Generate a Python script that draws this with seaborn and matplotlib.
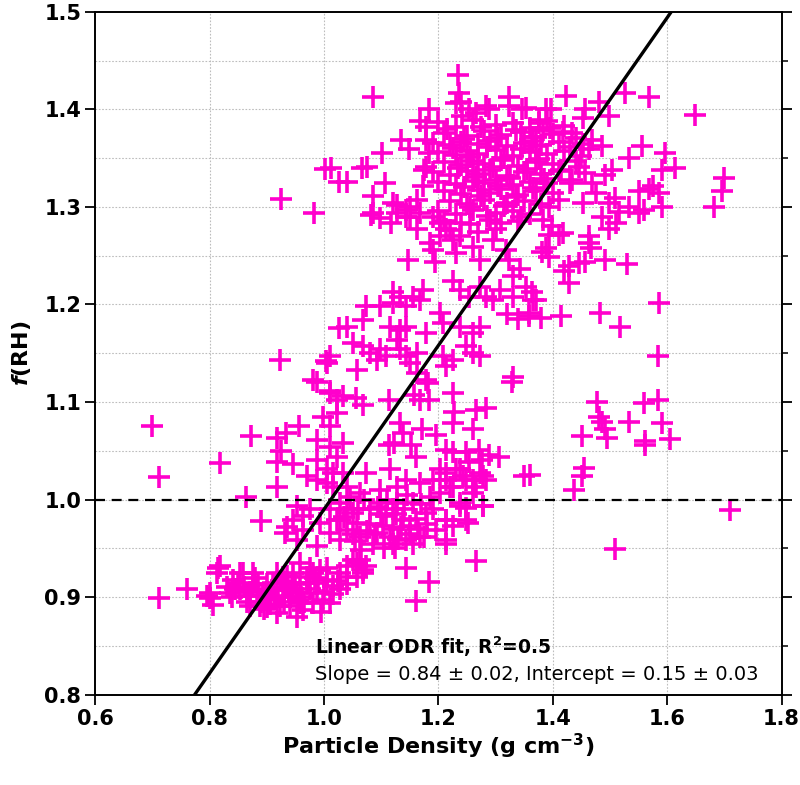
import matplotlib
matplotlib.use("Agg")
import matplotlib.pyplot as plt
import numpy as np
import pandas as pd
import seaborn as sns


# upper cluster, f(RH) ~ 1.3-1.44
upper_x = [
    1.235, 1.085, 1.013, 1.041, 1.067, 1.076, 1.102, 1.106, 1.085, 1.085, 1.120, 1.135, 1.149,
    1.167, 1.178, 1.184, 1.178, 1.184, 1.178, 1.175, 1.173, 1.162, 1.150, 1.127, 1.144, 1.236,
    1.239, 1.231, 1.242, 1.254, 1.266, 1.289, 1.283, 1.324, 1.347, 1.324, 1.353, 1.388, 1.376,
    1.001, 0.924, 0.982, 1.027,
    1.423, 1.396, 1.481, 1.527, 1.568, 1.498, 1.457, 1.452, 1.649, 1.376, 1.382, 1.364, 1.370,
    1.417, 1.434, 1.469, 1.486, 1.452, 1.463, 1.556, 1.533, 1.597, 1.614, 1.591, 1.504, 1.492,
    1.446, 1.457, 1.434, 1.469, 1.475, 1.550, 1.568, 1.576, 1.585, 1.591, 1.699, 1.696, 1.681,
    1.498, 1.509, 1.515, 1.486, 1.533, 1.550, 1.559, 1.510, 1.498, 1.452, 1.411, 1.393, 1.417,
    1.399, 1.382, 1.463,
]
upper_y = [
    1.435, 1.413, 1.340, 1.326, 1.340, 1.341, 1.355, 1.325, 1.311, 1.294, 1.304, 1.369, 1.359,
    1.388, 1.382, 1.400, 1.369, 1.355, 1.341, 1.338, 1.321, 1.307, 1.300, 1.294, 1.290, 1.417,
    1.408, 1.406, 1.393, 1.400, 1.396, 1.400, 1.403, 1.413, 1.400, 1.403, 1.401, 1.400, 1.389,
    1.339, 1.308, 1.294, 1.326,
    1.414, 1.400, 1.408, 1.417, 1.413, 1.393, 1.400, 1.391, 1.394, 1.386, 1.379, 1.372, 1.362,
    1.377, 1.376, 1.369, 1.362, 1.364, 1.359, 1.362, 1.350, 1.355, 1.340, 1.338, 1.338, 1.333,
    1.341, 1.335, 1.328, 1.324, 1.314, 1.316, 1.318, 1.321, 1.314, 1.300, 1.330, 1.316, 1.300,
    1.304, 1.309, 1.295, 1.290, 1.300, 1.294, 1.297, 1.283, 1.277, 1.304, 1.307, 1.300, 1.273,
    1.280, 1.287, 1.270,
]

# dense core of the upper cluster
core_x = [
    1.20, 1.23, 1.26, 1.30, 1.33, 1.36, 1.39, 1.42,
    1.21, 1.25, 1.28, 1.31, 1.345, 1.37, 1.40, 1.44,
    1.19, 1.22, 1.24, 1.27, 1.29, 1.32, 1.35, 1.38, 1.41, 1.43,
    1.20, 1.23, 1.25, 1.27, 1.30, 1.33, 1.36, 1.39, 1.42, 1.45,
    1.21, 1.24, 1.26, 1.28, 1.31, 1.34, 1.37, 1.40, 1.44,
    1.19, 1.22, 1.25, 1.27, 1.29, 1.32, 1.35, 1.38, 1.41,
    1.20, 1.23, 1.26, 1.28, 1.30, 1.33, 1.36, 1.39, 1.43,
    1.21, 1.24, 1.27, 1.29, 1.31, 1.34, 1.37, 1.40,
    1.22, 1.25, 1.28, 1.32, 1.35, 1.38,
    1.20, 1.23, 1.26, 1.30, 1.33, 1.36,
    1.21, 1.24, 1.29, 1.31, 1.34,
    1.22, 1.27, 1.30,
    1.215, 1.245, 1.275, 1.305, 1.335, 1.365, 1.395, 1.225, 1.255, 1.285, 1.315, 1.345, 1.375,
    1.235, 1.265, 1.295, 1.325, 1.355, 1.385, 1.415, 1.245, 1.275, 1.305, 1.335, 1.365, 1.255,
    1.285, 1.315, 1.345,
]
core_y = [
    1.387, 1.382, 1.389, 1.384, 1.386, 1.381, 1.388, 1.383,
    1.376, 1.373, 1.378, 1.374, 1.377, 1.372, 1.375, 1.371,
    1.366, 1.363, 1.367, 1.364, 1.368, 1.362, 1.366, 1.363, 1.367, 1.361,
    1.356, 1.353, 1.357, 1.354, 1.358, 1.352, 1.356, 1.354, 1.357, 1.352,
    1.346, 1.343, 1.347, 1.344, 1.348, 1.342, 1.346, 1.344, 1.347,
    1.336, 1.333, 1.337, 1.334, 1.338, 1.332, 1.336, 1.334, 1.337,
    1.326, 1.323, 1.327, 1.324, 1.328, 1.322, 1.326, 1.324, 1.325,
    1.316, 1.313, 1.317, 1.314, 1.318, 1.312, 1.316, 1.314,
    1.306, 1.303, 1.307, 1.304, 1.306, 1.303,
    1.296, 1.293, 1.297, 1.294, 1.296, 1.293,
    1.286, 1.283, 1.287, 1.284, 1.286,
    1.276, 1.274, 1.277,
    1.380, 1.370, 1.382, 1.371, 1.379, 1.368, 1.381, 1.360, 1.351, 1.361, 1.350, 1.359, 1.349,
    1.340, 1.331, 1.341, 1.330, 1.339, 1.329, 1.338, 1.320, 1.311, 1.321, 1.310, 1.319, 1.300,
    1.291, 1.301, 1.290,
]

# middle band, f(RH) ~ 1.1-1.3
mid_x = [
    1.083, 1.098, 1.118, 1.127, 1.144, 1.162, 1.150, 1.167, 1.191, 1.202, 1.214, 1.202, 1.225,
    1.185, 1.191, 1.237, 1.255, 1.231, 1.272, 1.260, 1.147, 1.194, 1.225, 1.237, 1.272, 1.254,
    1.283, 1.295, 1.307, 1.330, 1.295, 1.319, 1.324, 1.342, 1.330, 1.353, 1.365, 1.359, 1.121,
    1.132, 1.156, 1.167, 1.144, 1.121, 1.074, 1.098, 1.173, 1.040, 1.069, 1.115, 1.132, 1.144,
    1.179, 1.202, 1.208, 1.051, 1.069, 1.080, 1.098, 1.092, 1.109, 1.127, 1.132, 1.144, 1.162,
    1.150, 1.237, 1.260, 1.272, 1.249, 1.260, 1.272, 1.225, 1.214, 1.208, 1.005, 1.010, 0.981,
    1.057, 1.330, 1.179, 1.162, 0.923, 1.003, 1.010, 1.027, 1.320, 1.340,
    1.393, 1.411, 1.381, 1.393, 1.388, 1.463, 1.466, 1.428, 1.420, 1.428, 1.446, 1.457, 1.492,
    1.530, 1.585, 1.364, 1.370, 1.358, 1.379, 1.414, 1.483, 1.518,
]
mid_y = [
    1.292, 1.289, 1.284, 1.302, 1.297, 1.277, 1.290, 1.294, 1.290, 1.283, 1.277, 1.270, 1.266,
    1.263, 1.256, 1.270, 1.282, 1.253, 1.246, 1.259, 1.246, 1.244, 1.224, 1.215, 1.218, 1.208,
    1.208, 1.205, 1.215, 1.208, 1.266, 1.256, 1.246, 1.236, 1.229, 1.218, 1.205, 1.188, 1.213,
    1.208, 1.208, 1.205, 1.198, 1.201, 1.198, 1.198, 1.215, 1.177, 1.184, 1.177, 1.174, 1.177,
    1.171, 1.191, 1.181, 1.160, 1.157, 1.150, 1.154, 1.143, 1.147, 1.164, 1.154, 1.147, 1.150,
    1.140, 1.177, 1.171, 1.177, 1.157, 1.150, 1.147, 1.143, 1.137, 1.147, 1.140, 1.147, 1.123,
    1.133, 1.126, 1.123, 1.130, 1.143, 1.142, 1.111, 1.176, 1.190, 1.185,
    1.271, 1.271, 1.254, 1.249, 1.258, 1.263, 1.258, 1.239, 1.234, 1.222, 1.242, 1.244, 1.246,
    1.241, 1.201, 1.213, 1.205, 1.191, 1.186, 1.188, 1.191, 1.177,
]

# band around f(RH) ~ 1.0-1.1
low_x = [
    1.329, 1.181, 1.225, 1.184, 1.158, 1.167, 1.114, 1.056, 1.068, 1.228, 1.225, 1.266, 1.283,
    1.260, 1.132, 1.138, 1.172, 1.196, 1.152, 1.161, 1.123, 1.114, 1.213, 1.225, 1.248, 1.271,
    1.289, 1.306, 1.254, 1.277, 1.350, 1.202, 1.191, 1.214, 1.231, 1.243, 1.260, 1.272, 1.283,
    1.266, 1.220, 1.237, 1.249, 1.278, 1.252, 1.214, 1.225, 1.214, 1.124, 1.266, 1.143, 1.184,
    1.161, 1.069, 1.057, 1.040,
    0.987, 1.010, 1.022, 1.034, 1.022, 0.999, 1.010, 0.987, 1.010, 1.034, 1.022, 0.987, 1.005,
    1.034, 1.016, 0.987, 0.970, 0.952, 0.976, 0.964, 0.993, 1.022, 1.010, 0.946, 0.964, 0.935,
    0.952, 0.987, 1.028,
    0.699, 0.712, 0.819, 0.873, 0.863, 0.890, 0.917, 0.917, 0.917, 0.934, 0.957, 0.946, 0.925,
    0.931,
    1.584, 1.478, 1.481, 1.486, 1.492, 1.495, 1.559, 1.584, 1.533, 1.591, 1.562, 1.562, 1.605,
    1.451, 1.454, 1.451, 1.437, 1.361, 1.710, 1.508,
]
low_y = [
    1.121, 1.119, 1.109, 1.102, 1.107, 1.102, 1.102, 1.104, 1.097, 1.090, 1.078, 1.092, 1.094,
    1.072, 1.078, 1.068, 1.072, 1.066, 1.056, 1.044, 1.058, 1.056, 1.051, 1.049, 1.049, 1.051,
    1.046, 1.044, 1.039, 1.041, 1.024, 1.031, 1.020, 1.020, 1.031, 1.024, 1.020, 1.027, 1.020,
    1.013, 1.013, 0.997, 0.991, 0.993, 0.976, 0.979, 0.973, 0.955, 0.950, 0.937, 0.930, 0.916,
    0.896, 0.928, 0.935, 0.921,
    1.121, 1.109, 1.102, 1.106, 1.089, 1.085, 1.075, 1.061, 1.054, 1.058, 1.044, 1.041, 1.031,
    1.027, 1.013, 1.020, 1.024, 0.993, 0.990, 0.983, 0.976, 0.979, 0.966, 0.979, 0.969, 0.972,
    0.959, 0.952, 0.959,
    1.075, 1.023, 1.038, 1.065, 1.003, 0.978, 1.013, 1.039, 1.063, 1.068, 1.075, 1.036, 1.050,
    0.966,
    1.147, 1.100, 1.085, 1.080, 1.072, 1.063, 1.099, 1.102, 1.080, 1.078, 1.060, 1.056, 1.062,
    1.065, 1.032, 1.024, 1.010, 1.025, 0.989, 0.949,
]

# dense group just under f(RH) = 1
near1_x = [
    1.074, 1.115, 1.144, 1.127, 1.167, 1.098, 1.063, 1.040, 1.016, 1.005, 1.185, 1.202, 1.214,
    1.237, 1.249, 1.278, 1.225, 1.260, 1.237, 1.278, 1.249, 1.214, 1.196, 1.214, 1.167, 1.144,
    1.121, 1.092, 1.063, 1.040, 1.028, 1.051, 1.080, 1.109, 1.138, 1.156, 1.127, 1.098, 1.028,
    1.010, 1.057, 1.103, 1.150, 1.179,
    1.06, 1.08, 1.10, 1.12, 1.14, 1.16, 1.18, 1.07, 1.09, 1.13, 1.15, 1.05, 1.11, 1.17, 1.04,
    1.12, 1.19, 1.085,
    1.035, 1.055, 1.075, 1.095, 1.115, 1.135, 1.155, 1.175, 1.045, 1.065, 1.105, 1.125, 1.145,
    1.165,
]
near1_y = [
    1.027, 1.031, 1.020, 1.013, 1.017, 1.010, 1.007, 1.013, 1.027, 1.017, 1.003, 1.007, 1.027,
    1.031, 1.020, 1.024, 1.013, 1.007, 0.993, 0.993, 0.979, 0.979, 0.969, 0.959, 0.962, 0.959,
    0.955, 0.966, 0.962, 0.969, 0.979, 0.986, 0.990, 0.983, 0.979, 0.997, 0.997, 0.997, 0.997,
    0.990, 0.976, 0.973, 0.973, 0.986,
    0.990, 0.975, 0.985, 0.970, 0.990, 0.980, 0.975, 1.000, 0.965, 0.960, 0.965, 0.965, 1.000,
    0.995, 0.990, 0.990, 0.990, 0.955,
    0.982, 0.958, 0.968, 0.992, 0.962, 0.972, 0.955, 0.962, 1.003, 0.948, 0.950, 0.985, 1.005,
    0.970,
]

# dense group around f(RH) ~ 0.9
base_x = [
    0.712, 0.760, 0.800, 0.815, 0.853,
    0.813, 0.818, 0.795, 0.806, 0.801, 0.841, 0.859, 0.853, 0.836, 0.865, 0.876, 0.870, 0.882,
    0.894, 0.888, 0.906, 0.900, 0.911, 0.923, 0.917, 0.929, 0.935, 0.940, 0.952, 0.958, 0.964,
    0.946, 0.958, 0.970, 0.976, 0.987, 0.981, 0.999, 1.010, 1.016, 1.005, 0.993, 1.028, 1.040,
    1.051, 1.063, 1.069, 1.057, 1.040, 1.028, 1.074, 0.958, 0.929, 0.917, 0.952,
    0.84, 0.86, 0.88, 0.90, 0.92, 0.93, 0.95, 0.97, 0.99, 1.00, 0.89, 0.91, 0.94, 0.96, 0.98,
    0.85, 0.87, 0.83, 0.90, 0.93,
    0.845, 0.865, 0.885, 0.905, 0.925, 0.945, 0.965, 0.985, 1.005, 1.025, 0.875, 0.895, 0.915,
    0.935, 0.955, 0.975, 0.995, 1.015,
]
base_y = [
    0.899, 0.908, 0.899, 0.930, 0.925,
    0.925, 0.932, 0.901, 0.892, 0.904, 0.918, 0.925, 0.908, 0.904, 0.901, 0.914, 0.891, 0.908,
    0.901, 0.891, 0.897, 0.914, 0.908, 0.891, 0.884, 0.901, 0.914, 0.891, 0.904, 0.894, 0.887,
    0.925, 0.935, 0.921, 0.908, 0.904, 0.894, 0.897, 0.894, 0.911, 0.918, 0.928, 0.925, 0.932,
    0.938, 0.938, 0.925, 0.921, 0.914, 0.908, 0.932, 0.914, 0.921, 0.925, 0.880,
    0.900, 0.910, 0.920, 0.905, 0.900, 0.910, 0.915, 0.915, 0.915, 0.905, 0.895, 0.915, 0.900,
    0.900, 0.925, 0.915, 0.905, 0.910, 0.890, 0.895,
    0.908, 0.895, 0.912, 0.893, 0.917, 0.908, 0.895, 0.920, 0.930, 0.917, 0.925, 0.888, 0.898,
    0.922, 0.897, 0.930, 0.885, 0.903,
]

SLOPE = 0.84
INTERCEPT = 0.15
R2 = 0.5
SLOPE_ERR = 0.02
INTERCEPT_ERR = 0.03

x_ticks = [0.6, 0.8, 1.0, 1.2, 1.4, 1.6, 1.8]
y_ticks = [0.8, 0.9, 1.0, 1.1, 1.2, 1.3, 1.4, 1.5]

MAGENTA = "#FF00CC"

df = pd.DataFrame({
    "density": upper_x + core_x + mid_x + low_x + near1_x + base_x,
    "frh": upper_y + core_y + mid_y + low_y + near1_y + base_y,
})

sns.set_theme(style="white")
plt.rcParams["font.family"] = ["DejaVu Sans"]
plt.rcParams["mathtext.fontset"] = "dejavusans"
plt.rcParams["text.color"] = "black"
plt.rcParams["axes.labelcolor"] = "black"
plt.rcParams["xtick.color"] = "black"
plt.rcParams["ytick.color"] = "black"

fig = plt.figure(figsize=(8.0, 7.85), dpi=100)
ax = fig.add_axes([0.119, 0.115, 0.858, 0.870])

ax.set_xlim(0.6, 1.8)
ax.set_ylim(0.8, 1.5)

# dotted grid: x at major ticks, y every 0.05
for gx in x_ticks[1:-1]:
    ax.axvline(gx, color="#bdbdbd", lw=0.8, ls=(0, (1.5, 1.5)), zorder=0)
for gy in np.arange(0.85, 1.5, 0.05):
    ax.axhline(gy, color="#bdbdbd", lw=0.8, ls=(0, (1.5, 1.5)), zorder=0)

sns.scatterplot(
    data=df, x="density", y="frh", marker="+", s=250, color=MAGENTA,
    linewidth=2.6, ax=ax, zorder=2, legend=False,
)

fit_x = np.array([0.6, 1.8])
ax.plot(fit_x, SLOPE * fit_x + INTERCEPT, color="black", lw=2.4, zorder=4)
ax.axhline(1.0, color="black", lw=1.6, ls=(0, (4.5, 3)), zorder=4)

ax.set_xticks(x_ticks)
ax.set_yticks(y_ticks)
ax.set_xticklabels([f"{v:.1f}" for v in x_ticks], fontweight="bold", fontsize=15)
ax.set_yticklabels([f"{v:.1f}" for v in y_ticks], fontweight="bold", fontsize=15)
ax.tick_params(axis="both", direction="out", length=7, width=1.3, pad=3,
               bottom=True, left=True)
ax.tick_params(axis="y", right=True)
ax.set_yticks(np.arange(0.85, 1.5, 0.1), minor=True)
ax.tick_params(axis="y", which="minor", length=4, width=1.1, left=False, right=True,
               direction="out")

for side in ["left", "right", "top", "bottom"]:
    ax.spines[side].set_color("black")
    ax.spines[side].set_linewidth(1.4)

ax.set_xlabel(r"Particle Density (g cm$^{\mathbf{-3}}$)", fontsize=16, fontweight="bold",
              labelpad=2)
ax.set_ylabel(r"$\mathbfit{f}$(RH)", fontsize=16, fontweight="bold", labelpad=8)

ax.text(0.985, 0.849, r"Linear ODR fit, R$^{\mathbf{2}}$=" + f"{R2}", fontsize=13.5,
        fontweight="bold", va="center", ha="left", zorder=5)
ax.text(0.985, 0.821,
        f"Slope = {SLOPE:.2f} \u00b1 {SLOPE_ERR:.2f}, Intercept = {INTERCEPT:.2f} \u00b1 {INTERCEPT_ERR:.2f}",
        fontsize=14, va="center", ha="left", zorder=5)

fig.savefig("out.png", dpi=100)
plt.close(fig)
